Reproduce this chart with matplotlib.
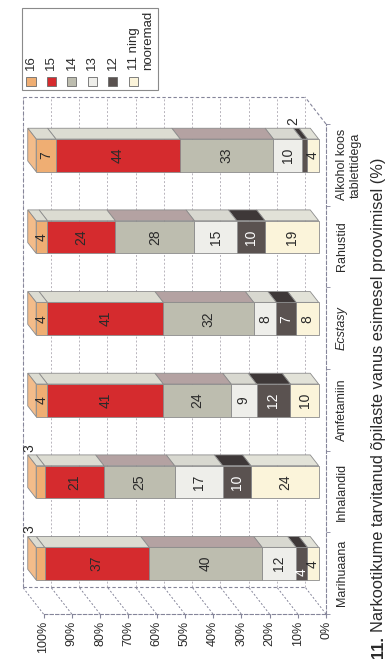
import numpy as np
import matplotlib.pyplot as plt
from matplotlib.patches import Polygon, Rectangle
from matplotlib.lines import Line2D
from matplotlib.transforms import IdentityTransform

plt.rcParams['font.family'] = ['Liberation Sans', 'DejaVu Sans']

# data (values in %), stacked from the youngest age group upward
categories = ['Marihuaana', 'Inhalandid', 'Amfetamiin', 'Ecstasy', 'Rahustid',
              'Alkohol koos\ntablettidega']
age_groups = ['11 ning\nnooremad', '12', '13', '14', '15', '16']
v11 = [4, 24, 10, 8, 19, 4]
v12 = [4, 10, 12, 7, 10, 2]
v13 = [12, 17, 9, 8, 15, 10]
v14 = [40, 25, 24, 32, 28, 33]
v15 = [37, 21, 41, 41, 24, 44]
v16 = [3, 3, 4, 4, 4, 7]
pct_ticks = np.arange(0, 101, 10)
title_num = '11.'
title_rest = 'Narkootikume tarvitanud õpilaste vanus esimesel proovimisel (%)'

series = [v11, v12, v13, v14, v15, v16]
front_colors = ['#FBF4DA', '#5A5250', '#EEEEEA', '#BDBDAF', '#D52B2E', '#EFAE73']
side_colors = ['#E2E2D8', '#3E3838', '#D8D8D0', '#B4A2A2', '#DCDCD2', '#DCDCD2']
end_color = '#F3BC8A'
frame_col = '#85859a'
grid_col = '#b8b4bc'
txt_col = '#2a2a2a'

W, H = 390, 663
fig = plt.figure(figsize=(W / 100, H / 100), dpi=100)


def fx(px):
    return px / W


def fy(py):
    return 1 - py / H


ax = fig.add_axes([fx(43.5), fy(614), fx(326) - fx(43.5), fy(124) - fy(614)])
ax.set_xlim(100, 0)
ax.set_ylim(-0.5, 5.5)
ax.patch.set_visible(False)

wall = np.array([-21.0, 27.0])   # depth of the box in pixels
d_front, d_back = 0.35, 0.75     # bar depth inside the box
bar_h = 0.40
ident = IdentityTransform()


def P(v, c, d):
    return ax.transData.transform((v, c)) + d * wall


def seg(p0, p1, **kw):
    ax.add_line(Line2D([p0[0], p1[0]], [p0[1], p1[1]], transform=ident,
                       clip_on=False, **kw))


# back wall grid and frame
for v in pct_ticks:
    seg(P(v, -0.5, 1), P(v, 5.5, 1), color=grid_col, lw=0.7, ls=(0, (2, 2)), zorder=1)
    seg(P(v, -0.5, 0), P(v, -0.5, 1), color=frame_col, lw=0.7, ls=(0, (2, 2)), zorder=1)
seg(P(100, -0.5, 1), P(100, 5.5, 1), color=frame_col, lw=0.8, ls=(0, (3, 2)), zorder=1)
seg(P(100, 5.5, 1), P(0, 5.5, 1), color=frame_col, lw=0.8, ls=(0, (3, 2)), zorder=1)
seg(P(100, -0.5, 1), P(0, -0.5, 1), color=frame_col, lw=0.8, ls=(0, (3, 2)), zorder=1)
seg(P(0, 5.5, 0), P(0, 5.5, 1), color=frame_col, lw=0.8, ls=(0, (3, 2)), zorder=1)

# 3d stacked bars
for i in range(len(categories)):
    cum = 0
    for k, vals in enumerate(series):
        val = vals[i]
        v0, v1 = cum, cum + val
        cum = v1
        lo, hi = i - bar_h / 2, i + bar_h / 2
        front = [P(v0, lo, d_front), P(v1, lo, d_front), P(v1, hi, d_front), P(v0, hi, d_front)]
        side = [P(v0, hi, d_front), P(v1, hi, d_front), P(v1, hi, d_back), P(v0, hi, d_back)]
        ax.add_patch(Polygon(front, closed=True, transform=ident, clip_on=False,
                             fc=front_colors[k], ec='#8c8c8c', lw=0.6, zorder=3))
        ax.add_patch(Polygon(side, closed=True, transform=ident, clip_on=False,
                             fc=side_colors[k], ec='#8c8c8c', lw=0.6, zorder=3))
        if k == len(series) - 1:
            end = [P(v1, lo, d_front), P(v1, hi, d_front), P(v1, hi, d_back), P(v1, lo, d_back)]
            ax.add_patch(Polygon(end, closed=True, transform=ident, clip_on=False,
                                 fc=end_color, ec='#8c8c8c', lw=0.6, zorder=3))
        mid = (v0 + v1) / 2
        if val <= 3:
            pos = P(mid, hi, d_back) + np.array([-3, 7])
            col = txt_col
        else:
            pos = P(mid, i, d_front)
            # two narrow neighbours: stagger the second label
            if val <= 4 and k > 0 and series[k - 1][i] <= 4:
                pos = pos + np.array([0, -8])
            col = 'white' if k == 1 else txt_col
        ax.text(pos[0], pos[1], str(val), transform=ident, rotation=90,
                ha='center', va='center', fontsize=10, color=col, zorder=5)

# axes, ticks
for s in ['top', 'left']:
    ax.spines[s].set_visible(False)
for s in ['bottom', 'right']:
    ax.spines[s].set_color(frame_col)
    ax.spines[s].set_linestyle((0, (3, 2)))
    ax.spines[s].set_linewidth(0.8)

ax.set_xticks(pct_ticks)
ax.set_xticklabels([f'{v}%' for v in pct_ticks], rotation=90)
ax.tick_params(axis='x', length=3, color=frame_col, pad=2, labelsize=9,
               labelcolor=txt_col)

ax.yaxis.tick_right()
ax.set_yticks(range(len(categories)))
ax.set_yticklabels(categories, rotation=90, va='center', ha='left',
                   multialignment='center')
ax.set_yticks(np.arange(-0.5, 6, 1), minor=True)
ax.tick_params(axis='y', which='major', length=0, pad=7, labelsize=9,
               labelcolor=txt_col)
ax.tick_params(axis='y', which='minor', length=3, color=frame_col)
ax.get_yticklabels()[3].set_style('italic')

# legend drawn by hand (rotated layout)
fig.add_artist(Rectangle((fx(22), fy(90)), fx(158) - fx(22), fy(8) - fy(90),
                         transform=fig.transFigure, fill=False, ec='#8a8a8a', lw=0.8))
for j, k in enumerate(range(len(age_groups) - 1, -1, -1)):
    cx = 31 + j * 20.4
    fig.add_artist(Rectangle((fx(cx - 4.5), fy(86)), fx(9), fy(77) - fy(86),
                             transform=fig.transFigure, fc=front_colors[k],
                             ec='#6a6a6a', lw=0.6))
    tx = cx + 8 if '\n' in age_groups[k] else cx
    fig.text(fx(tx), fy(70), age_groups[k], rotation=90, ha='center', va='bottom',
             multialignment='left', fontsize=9.5, color=txt_col)

# title
t1 = fig.text(fx(379), fy(658), title_num, rotation=90, ha='center', va='bottom',
              fontsize=11.8, fontweight='bold', color=txt_col)
ax.annotate(title_rest, xy=(0.5, 1), xycoords=t1, xytext=(0, 3),
            textcoords='offset points', rotation=90, ha='center', va='bottom',
            fontsize=11.8, color=txt_col, annotation_clip=False)

fig.savefig('out.png', dpi=100)
